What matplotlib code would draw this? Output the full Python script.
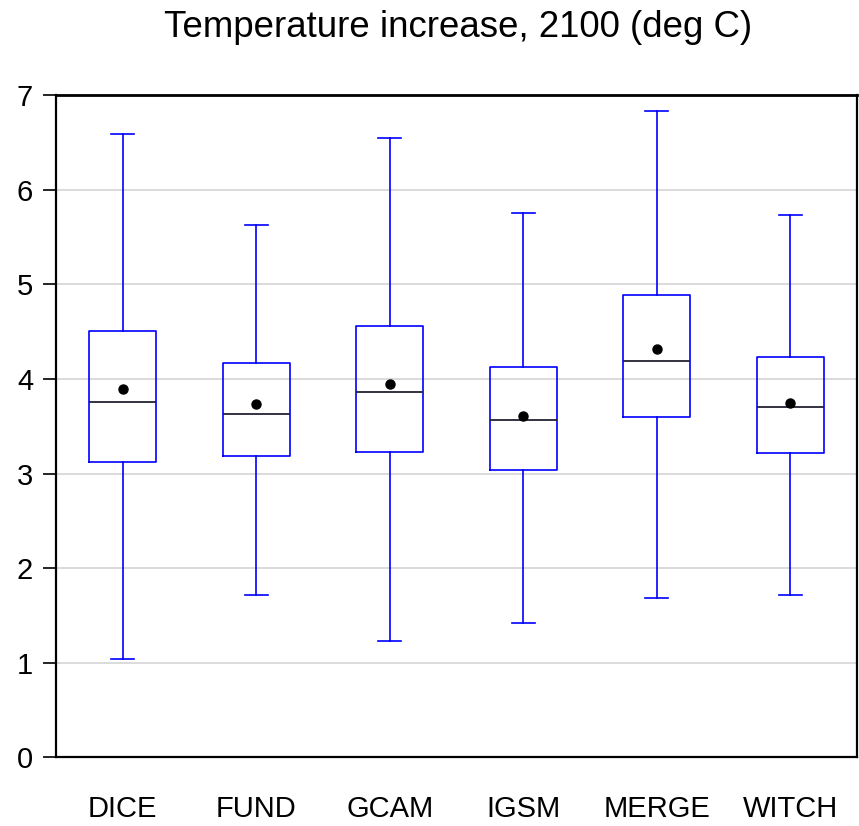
import matplotlib
matplotlib.use("Agg")
import matplotlib.pyplot as plt

plt.rcParams["font.family"] = ["Liberation Sans", "DejaVu Sans"]

# Valores (deg C)
models = ["DICE", "FUND", "GCAM", "IGSM", "MERGE", "WITCH"]
whisker_low = [1.04, 1.72, 1.23, 1.42, 1.68, 1.72]
q1 = [3.12, 3.19, 3.23, 3.04, 3.60, 3.22]
median = [3.76, 3.63, 3.86, 3.57, 4.19, 3.70]
mean = [3.89, 3.74, 3.95, 3.61, 4.32, 3.75]
q3 = [4.51, 4.17, 4.56, 4.13, 4.89, 4.23]
whisker_high = [6.59, 5.63, 6.55, 5.76, 6.83, 5.73]

BLUE = "#0000ff"

stats = []
for i, name in enumerate(models):
    stats.append(dict(label=name, whislo=whisker_low[i], q1=q1[i],
                      med=median[i], mean=mean[i], q3=q3[i],
                      whishi=whisker_high[i], fliers=[]))

fig = plt.figure(figsize=(8.59, 8.26), dpi=100)
ax = fig.add_axes([0.0652, 0.0832, 0.9325, 0.8014])

positions = list(range(1, len(models) + 1))
ax.bxp(stats, positions=positions, widths=0.5, capwidths=0.17,
       showmeans=True, showfliers=False,
       boxprops=dict(color=BLUE, linewidth=1.2),
       whiskerprops=dict(color=BLUE, linewidth=1.2),
       capprops=dict(color=BLUE, linewidth=1.2),
       medianprops=dict(color="#222233", linewidth=1.3),
       meanprops=dict(marker="o", markerfacecolor="black",
                      markeredgecolor="black", markersize=6.5))

ax.set_xlim(0.5, 6.5)
ax.set_ylim(0, 7)
ax.set_yticks(range(0, 8))
ax.set_xticks(positions)
ax.set_xticklabels(models)

ax.yaxis.grid(True, color="#d4d4d4", linewidth=1.2)
ax.set_axisbelow(True)

for sp in ax.spines.values():
    sp.set_color("black")
    sp.set_linewidth(1.6)
ax.spines["top"].set_linewidth(2.0)

ax.tick_params(axis="y", direction="out", length=9.4, width=1.2,
               labelsize=21, pad=7)
# rotulos do eixo x logo acima da borda inferior, sem cortar
ax.tick_params(axis="x", length=0, labelsize=21, pad=27)

fig.text(0.533, 0.955, "Temperature increase, 2100 (deg C)",
         ha="center", va="baseline", fontsize=26.4)

fig.savefig("out.png", dpi=100)
